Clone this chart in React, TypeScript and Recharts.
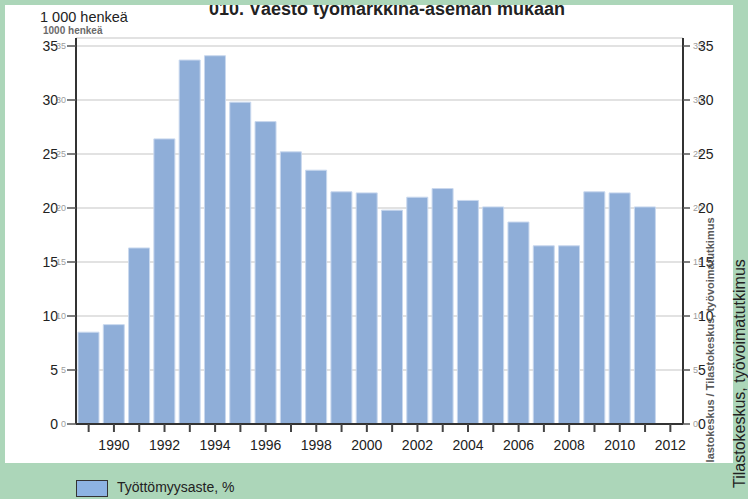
import { ComposedChart, Bar, Line, XAxis, YAxis, CartesianGrid } from 'recharts';

// Unemployed persons (1 000), annual, Statistics Finland LFS
const YEARS = [
  '1989', '1990', '1991', '1992', '1993', '1994', '1995', '1996',
  '1997', '1998', '1999', '2000', '2001', '2002', '2003', '2004',
  '2005', '2006', '2007', '2008', '2009', '2010', '2011', '2012',
];
const UNEMPLOYED: (number | null)[] = [
  8.5, 9.2, 16.3, 26.4, 33.7, 34.1, 29.8, 28.0,
  25.2, 23.5, 21.5, 21.4, 19.8, 21.0, 21.8, 20.7,
  20.1, 18.7, 16.5, 16.5, 21.5, 21.4, 20.1, null,
];
const Y_TICKS = [0, 5, 10, 15, 20, 25, 30, 35];

const FONT = '"Liberation Sans", Arial, sans-serif';
const GREEN_BG = '#acd6b9';
const BAR_FILL = '#8faed8';
const BAR_EDGE = '#c9d8ee';
const AXIS = '#333333';
const INK = '#222222';

const data = YEARS.map((year, i) => ({ year, value: UNEMPLOYED[i] }));

// left axis: big label plus the faint duplicate that sits next to it
// eslint-disable-next-line @typescript-eslint/no-explicit-any
function LeftTick({ x, y, payload }: any) {
  return (
    <g>
      <text x={x - 9} y={y} dy="0.36em" textAnchor="end" fontSize={14} fontFamily={FONT} fill={INK}>
        {payload.value}
      </text>
      <text x={x - 1} y={y} dy="0.36em" textAnchor="end" fontSize={9} fontFamily={FONT} fill="#9c9c9c">
        {payload.value}
      </text>
    </g>
  );
}

// eslint-disable-next-line @typescript-eslint/no-explicit-any
function RightTick({ x, y, payload }: any) {
  return (
    <g>
      <text x={x + 3} y={y} dy="0.36em" textAnchor="start" fontSize={9} fontFamily={FONT} fill="#9c9c9c">
        {payload.value}
      </text>
      <text x={x + 8} y={y} dy="0.36em" textAnchor="start" fontSize={14} fontFamily={FONT} fill={INK}>
        {payload.value}
      </text>
    </g>
  );
}

export default function App() {
  return (
    <div style={{ position: 'absolute', left: 0, top: 0, width: 748, height: 499, background: GREEN_BG, overflow: 'hidden', fontFamily: FONT }}>
      {/* white chart panel */}
      <div style={{ position: 'absolute', left: 5, top: 5, width: 728, height: 458, background: '#ffffff' }} />

      <div style={{ position: 'absolute', left: 0, top: 0 }}>
        <ComposedChart width={748} height={499} data={data} margin={{ top: 38, right: 0, bottom: 35, left: 0 }}>
          <CartesianGrid yAxisId="left" vertical={false} stroke="#d9d9d9" strokeWidth={1.5} />
          <XAxis
            dataKey="year"
            interval={0}
            height={40}
            tickSize={8}
            tickMargin={8}
            axisLine={{ stroke: AXIS, strokeWidth: 2 }}
            tickLine={{ stroke: '#444', strokeWidth: 2 }}
            tick={{ fill: INK, fontSize: 14, fontFamily: FONT }}
            tickFormatter={(v: string) => (Number(v) % 2 === 0 ? v : '')}
          />
          <YAxis
            yAxisId="left"
            width={76}
            domain={[0, 35]}
            ticks={Y_TICKS}
            interval={0}
            padding={{ top: 8, bottom: 0 }}
            tickSize={9}
            tickMargin={0}
            axisLine={{ stroke: AXIS, strokeWidth: 2 }}
            tickLine={{ stroke: '#555', strokeWidth: 1.5 }}
            tick={<LeftTick />}
          />
          <YAxis
            yAxisId="right"
            orientation="right"
            width={65}
            domain={[0, 35]}
            ticks={Y_TICKS}
            interval={0}
            allowDataOverflow
            padding={{ top: 8, bottom: 0 }}
            tickSize={7}
            tickMargin={0}
            axisLine={{ stroke: AXIS, strokeWidth: 2 }}
            tickLine={{ stroke: '#555', strokeWidth: 1.5 }}
            tick={<RightTick />}
          />
          <Bar
            yAxisId="left"
            dataKey="value"
            barSize={21}
            fill={BAR_FILL}
            stroke={BAR_EDGE}
            strokeWidth={1}
            isAnimationActive={false}
          />
          {/* invisible series so the mirrored right axis gets its ticks */}
          <Line
            yAxisId="right"
            dataKey="value"
            stroke="none"
            dot={false}
            activeDot={false}
            legendType="none"
            isAnimationActive={false}
          />
        </ComposedChart>
      </div>

      {/* titles, unit labels and source notes */}
      <svg width={748} height={499} style={{ position: 'absolute', left: 0, top: 0, pointerEvents: 'none' }}>
        <defs>
          <clipPath id="panel">
            <rect x={5} y={5} width={728} height={458} />
          </clipPath>
        </defs>
        <g clipPath="url(#panel)">
          <text x={387} y={15} textAnchor="middle" fontSize={18} fontWeight="bold" fontFamily={FONT} fill={INK}>
            010. Väestö työmarkkina-aseman mukaan
          </text>
          <text x={40} y={22} fontSize={14.5} fontFamily={FONT} fill={INK}>
            1 000 henkeä
          </text>
          <text x={43} y={34} fontSize={10} fontWeight="bold" fontFamily={FONT} fill="#6a6a6a">
            1000 henkeä
          </text>
          <text transform="translate(714,472) rotate(-90)" fontSize={11} fontWeight="bold" fontFamily={FONT} fill="#5a5a5a">
            Tilastokeskus / Tilastokeskus, työvoimatutkimus
          </text>
        </g>
        <text transform="translate(745,488) rotate(-90)" fontSize={16} fontFamily={FONT} fill={INK}>
          Tilastokeskus, työvoimatutkimus
        </text>
      </svg>

      {/* legend */}
      <div style={{ position: 'absolute', left: 76, top: 480, width: 30, height: 15, background: '#8db3e2', border: '1px solid #333' }} />
      <div style={{ position: 'absolute', left: 117, top: 479, fontSize: 14, lineHeight: '16px', color: INK }}>
        Työttömyysaste, %
      </div>
    </div>
  );
}
